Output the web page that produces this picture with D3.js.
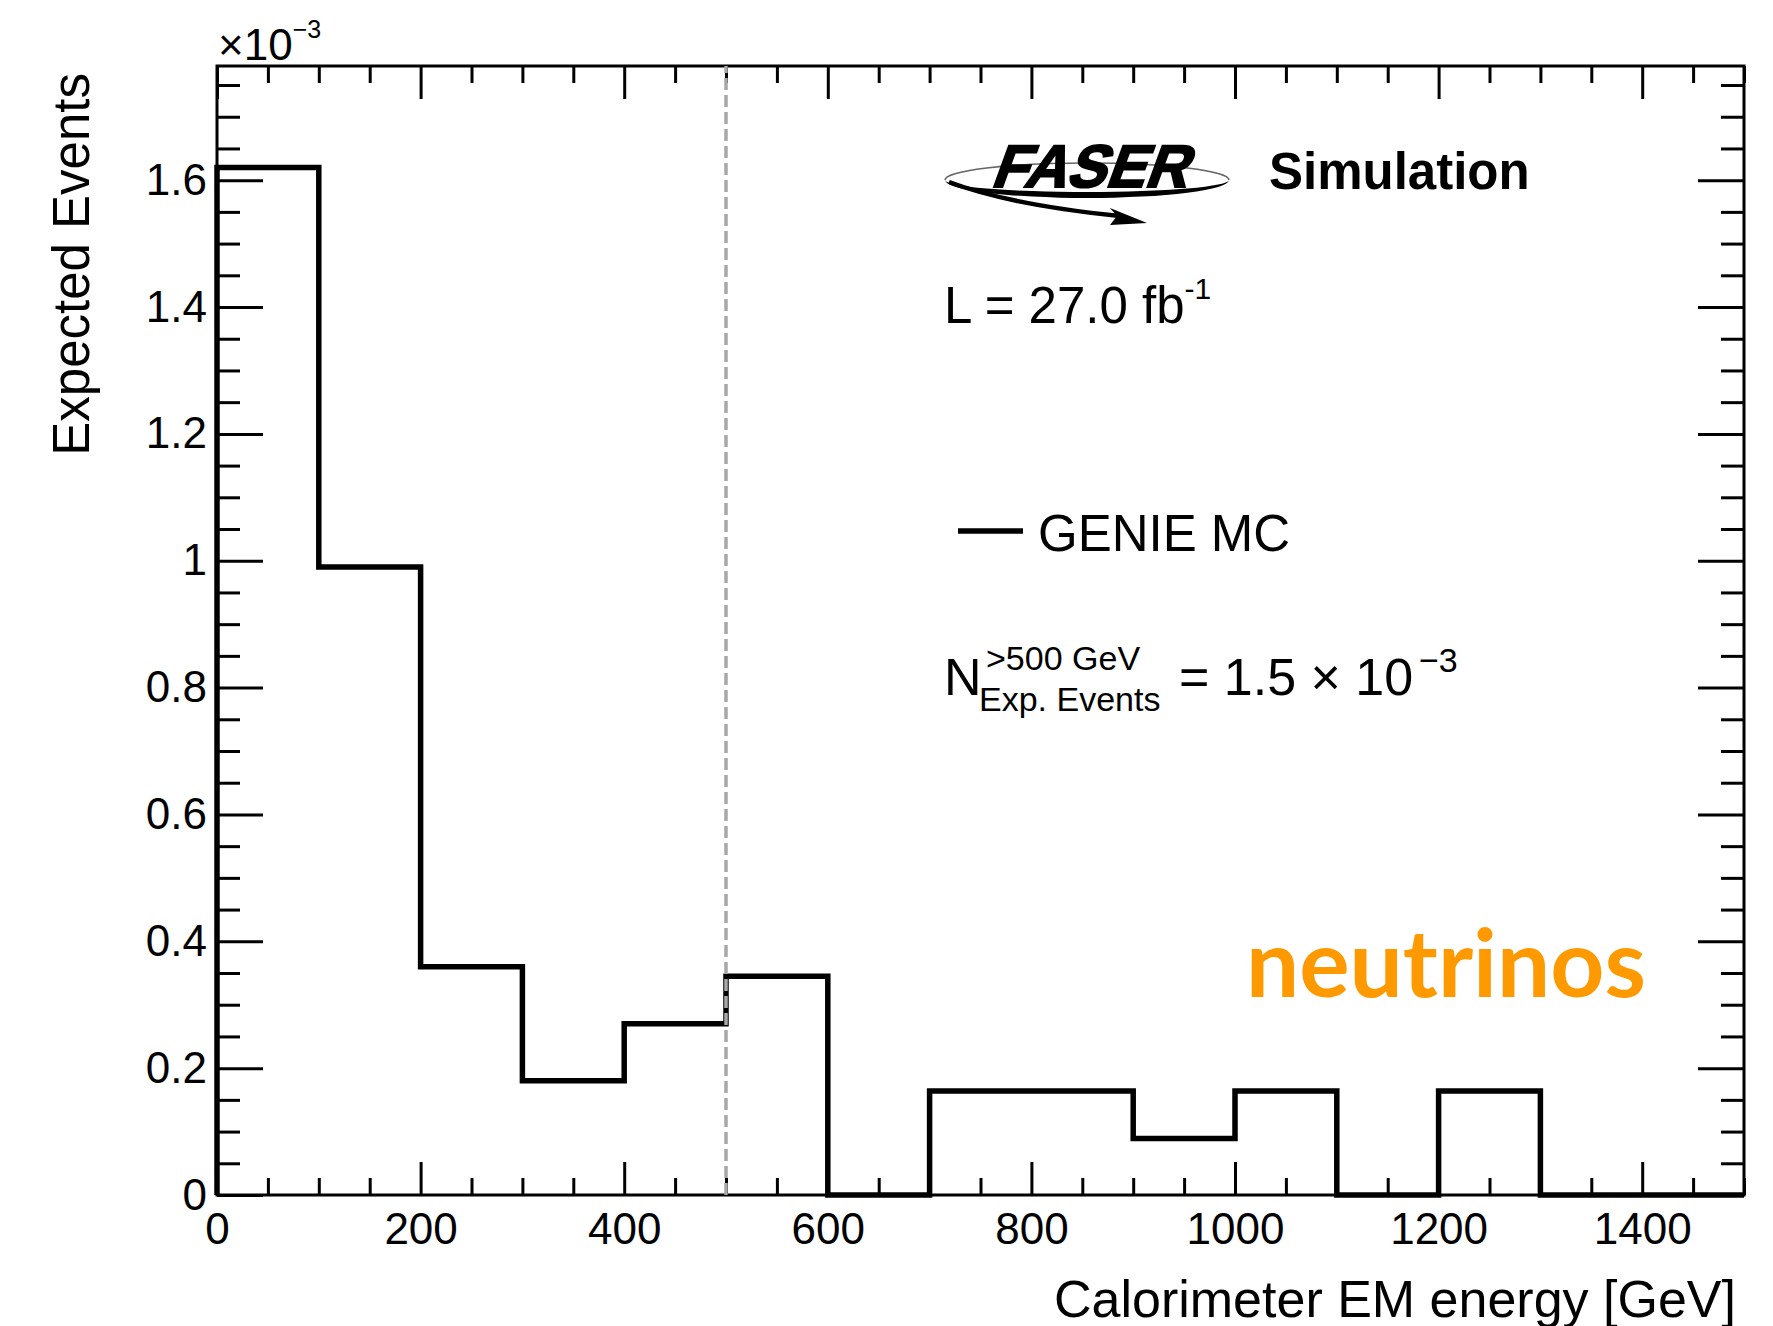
<!DOCTYPE html>
<html>
<head>
<meta charset="utf-8">
<script src="https://cdn.jsdelivr.net/npm/d3@7"></script>
<style>
  html, body { margin: 0; padding: 0; background: #fff; }
  svg { display: block; }
  text { font-family: "Liberation Sans", Arial, Helvetica, sans-serif; fill: #000; }
</style>
</head>
<body>
<svg id="chart" width="1773" height="1326"></svg>
<script>
// Histogram: calorimeter EM energy, 100 GeV bins, expected events (×10^-3)
const binEdges = [0, 100, 200, 300, 400, 500, 600, 700, 800, 900, 1000, 1100, 1200, 1300, 1400, 1500];
const expectedEvents = [1.62, 0.99, 0.36, 0.18, 0.27, 0.345, 0, 0.164, 0.164, 0.089, 0.164, 0, 0.164, 0, 0];
const cutEnergy = 500;

const xTickValues = [0, 200, 400, 600, 800, 1000, 1200, 1400];
const xTickLabels = ["0", "200", "400", "600", "800", "1000", "1200", "1400"];
const yTickValues = [0, 0.2, 0.4, 0.6, 0.8, 1.0, 1.2, 1.4, 1.6];
const yTickLabels = ["0", "0.2", "0.4", "0.6", "0.8", "1", "1.2", "1.4", "1.6"];

const svg = d3.select("#chart");

const frame = { left: 217, right: 1744, top: 66, bottom: 1195 };
const x = d3.scaleLinear().domain([0, 1500]).range([frame.left, frame.right]);
const y = d3.scaleLinear().domain([0, 1.78]).range([frame.bottom, frame.top]);

const xMinor = d3.range(0, 1501, 50).filter(v => v % 200 !== 0);
const yMinor = d3.range(0, 36).map(i => +(i * 0.05).toFixed(2)).filter(v => Math.round(v * 100) % 20 !== 0 && v <= 1.78);

function styleAxis(g) {
  g.select(".domain").remove();
  g.selectAll(".tick line").attr("stroke", "#000").attr("stroke-width", 3);
  g.selectAll(".tick text").attr("font-size", 44).attr("fill", "#000")
    .attr("font-family", "'Liberation Sans', Arial, sans-serif");
}

// bottom axis: major ticks with labels, minor ticks
svg.append("g").attr("transform", `translate(0,${frame.bottom})`)
  .call(d3.axisBottom(x).tickValues(xTickValues)
    .tickFormat((d, i) => xTickLabels[i]).tickSizeInner(-33).tickSizeOuter(0).tickPadding(18))
  .call(styleAxis);
svg.append("g").attr("transform", `translate(0,${frame.bottom})`)
  .call(d3.axisBottom(x).tickValues(xMinor).tickFormat("").tickSizeInner(-17).tickSizeOuter(0))
  .call(styleAxis);
// top axis, ticks only
svg.append("g").attr("transform", `translate(0,${frame.top})`)
  .call(d3.axisTop(x).tickValues(xTickValues).tickFormat("").tickSizeInner(-33).tickSizeOuter(0))
  .call(styleAxis);
svg.append("g").attr("transform", `translate(0,${frame.top})`)
  .call(d3.axisTop(x).tickValues(xMinor).tickFormat("").tickSizeInner(-17).tickSizeOuter(0))
  .call(styleAxis);

// left axis
svg.append("g").attr("transform", `translate(${frame.left},0)`)
  .call(d3.axisLeft(y).tickValues(yTickValues)
    .tickFormat((d, i) => yTickLabels[i]).tickSizeInner(-46).tickSizeOuter(0).tickPadding(10))
  .call(styleAxis);
svg.append("g").attr("transform", `translate(${frame.left},0)`)
  .call(d3.axisLeft(y).tickValues(yMinor).tickFormat("").tickSizeInner(-23).tickSizeOuter(0))
  .call(styleAxis);
// right axis, ticks only
svg.append("g").attr("transform", `translate(${frame.right},0)`)
  .call(d3.axisRight(y).tickValues(yTickValues).tickFormat("").tickSizeInner(-46).tickSizeOuter(0))
  .call(styleAxis);
svg.append("g").attr("transform", `translate(${frame.right},0)`)
  .call(d3.axisRight(y).tickValues(yMinor).tickFormat("").tickSizeInner(-23).tickSizeOuter(0))
  .call(styleAxis);

// frame
svg.append("rect")
  .attr("x", frame.left).attr("y", frame.top)
  .attr("width", frame.right - frame.left).attr("height", frame.bottom - frame.top)
  .attr("fill", "none").attr("stroke", "#000").attr("stroke-width", 3);

// histogram outline as a step path
const pts = [[binEdges[0], 0]];
expectedEvents.forEach((v, i) => {
  pts.push([binEdges[i], v]);
  pts.push([binEdges[i + 1], v]);
});
pts.push([binEdges[binEdges.length - 1], 0]);
svg.append("path")
  .attr("d", d3.line().x(d => x(d[0])).y(d => y(d[1]))(pts))
  .attr("fill", "none").attr("stroke", "#000").attr("stroke-width", 5.5)
  .attr("stroke-linejoin", "miter");

// energy cut marker
svg.append("line")
  .attr("x1", x(cutEnergy)).attr("x2", x(cutEnergy))
  .attr("y1", y(0)).attr("y2", y(1.78))
  .attr("stroke", "#a8a8a8").attr("stroke-width", 3.5).attr("stroke-dasharray", "12,5");

// y scale exponent
const expo = svg.append("text").attr("x", 218).attr("y", 60).attr("font-size", 44);
expo.append("tspan").text("×10");
expo.append("tspan").attr("font-size", 25).attr("dy", -22).text("−3");

// axis titles
svg.append("text")
  .attr("x", 1736).attr("y", 1317).attr("text-anchor", "end").attr("font-size", 52)
  .text("Calorimeter EM energy [GeV]");
svg.append("text")
  .attr("transform", "translate(89,73) rotate(-90)").attr("text-anchor", "end").attr("font-size", 51)
  .text("Expected Events");

// FASER logo
const logo = svg.append("g");
const cx = 1087, cy = 180, rx = 142;
logo.append("path")
  .attr("d", `M${cx - rx},${cy} A${rx},17 0 0 1 ${cx + rx},${cy}`)
  .attr("fill", "none").attr("stroke", "#666").attr("stroke-width", 1.6);
logo.append("path")
  .attr("d", `M${cx - rx},${cy} A${rx},18 0 0 0 ${cx + rx},${cy} A${rx},12 0 0 1 ${cx - rx},${cy} Z`)
  .attr("fill", "#000");
logo.append("path")
  .attr("d", `M${cx - rx + 4},${cy + 2} Q1010,205 1120,216`)
  .attr("fill", "none").attr("stroke", "#000").attr("stroke-width", 4.5);
logo.append("path")
  .attr("d", "M1147,223 L1110,208 L1117,216 L1110,225 Z")
  .attr("fill", "#000");
logo.append("text")
  .attr("transform", "translate(990,187) skewX(-20)")
  .attr("font-size", 60).attr("font-weight", "bold")
  .attr("textLength", 196).attr("lengthAdjust", "spacingAndGlyphs")
  .attr("stroke", "#000").attr("stroke-width", 2)
  .text("FASER");

svg.append("text").attr("x", 1269).attr("y", 189).attr("font-size", 51).attr("font-weight", "bold")
  .text("Simulation");

// luminosity
const lumi = svg.append("text").attr("x", 944).attr("y", 323).attr("font-size", 51);
lumi.append("tspan").text("L = 27.0 fb");
lumi.append("tspan").attr("font-size", 30).attr("dy", -24).text("-1");

// legend
svg.append("line").attr("x1", 958).attr("x2", 1023).attr("y1", 531).attr("y2", 531)
  .attr("stroke", "#000").attr("stroke-width", 5.5);
svg.append("text").attr("x", 1038).attr("y", 551).attr("font-size", 51).text("GENIE MC");

// expected events above threshold
svg.append("text").attr("x", 944).attr("y", 695).attr("font-size", 52).text("N");
svg.append("text").attr("x", 986).attr("y", 670).attr("font-size", 34).text(">500 GeV");
svg.append("text").attr("x", 979).attr("y", 711).attr("font-size", 34).text("Exp. Events");
svg.append("text").attr("x", 1179).attr("y", 695).attr("font-size", 52).text("= 1.5 × 10");
svg.append("text").attr("x", 1419).attr("y", 672).attr("font-size", 34).text("−3");

// label
const nu = svg.append("text").attr("x", 1246).attr("y", 997)
  .attr("font-weight", 700)
  .attr("font-size", 100).style("font-family", "Lato, 'Open Sans', sans-serif")
  .style("fill", "#ff9900")
  .text("neutrinos");
const w = nu.node().getComputedTextLength();
nu.attr("font-size", 100 * 400 / w);
</script>
</body>
</html>
